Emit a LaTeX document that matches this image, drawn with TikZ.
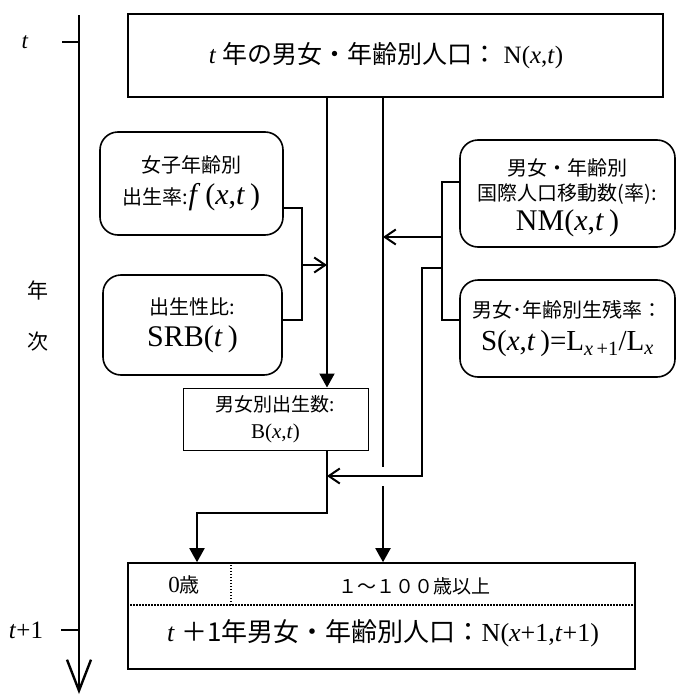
\documentclass[tikz,border=0pt]{standalone}
\usepackage{fontspec}
\usepackage{tikz}
\usetikzlibrary{arrows.meta}
\setmainfont{Liberation Serif}
\newfontfamily\jp{Noto Sans CJK JP}

\tikzset{
  lnk/.style={line width=2pt},
  fil/.style={-{Triangle[length=14pt,width=15pt]}},
  opn/.style={-{Straight Barb[length=11pt,width=15pt]}},
  rbox/.style={draw, line width=1.6pt, rounded corners=18pt, align=center, inner sep=0pt,
    font=\fontsize{20}{32}\selectfont},
  sqbox/.style={draw, line width=1.6pt, align=center, inner sep=0pt},
  sepln/.style={line width=1.5pt, dash pattern=on 1.5pt off 1.5pt},
}

\begin{document}
\begin{tikzpicture}[x=1pt,y=-1pt]
        \useasboundingbox (0,0) rectangle (677,696);

        % time axis
        \coordinate (axtop) at (79,15);
        \coordinate (axbot) at (79,694);
        \coordinate (t0) at (79,42);
        \coordinate (t1) at (79,630);
        \draw[line width=2.6pt, -{Straight Barb[length=31pt,width=24pt,line width=2.4pt]}] (axtop) -- (axbot);
        \draw[line width=1.4pt] (t0) -- ++(-17,0);
        \draw[line width=1.4pt] (t1) -- ++(-18,0);
        \node[font=\fontsize{23}{24}\selectfont] (tlab) at (25,42) {\textit{t}};
        \node[font=\fontsize{25}{26}\selectfont] (t1lab) at (26,630) {\textit{t}+1};
        \node[font=\fontsize{21}{22}\selectfont\jp] (nen) at (38,290) {年};
        \node[font=\fontsize{21}{22}\selectfont\jp] (ji) at (38,342) {次};

        % boxes
        \node[sqbox, minimum width=535pt, minimum height=83pt, font=\fontsize{25}{28}\selectfont] (pop) at (395.5,55.5)
          {\hspace*{-19pt}\textit{t} {\jp 年の男女・年齢別人口：} N(\textit{x},\textit{t})};
        \node[rbox, minimum width=183pt, minimum height=103pt] (fer) at (191.5,183.5)
          {{\jp 女子年齢別}\\{\jp 出生率:}{\fontsize{30}{30}\selectfont\textit{f}\,(\textit{x},\textit{t}\,)}};
        \node[rbox, minimum width=179pt, minimum height=100pt] (srb) at (192.5,325)
          {{\jp 出生性比:}\\{\fontsize{30}{30}\selectfont SRB(\textit{t}\,)}};
        \node[rbox, minimum width=215pt, minimum height=107pt, font=\fontsize{20}{25}\selectfont] (mig) at (567.5,193.5)
          {\rule{0pt}{26pt}{\jp 男女・年齢別}\\{\jp 国際人口移動数(率):}\\[5pt]{\fontsize{30}{30}\selectfont NM(\textit{x},\textit{t}\,)}};
        \node[rbox, minimum width=215pt, minimum height=97pt, font=\fontsize{20}{33}\selectfont] (surv) at (567.5,328.5)
          {{\jp 男女･年齢別生残率：}\\{\fontsize{29}{29}\selectfont S(\textit{x},\textit{t}\,)=L\textsubscript{\textit{x}\,+1}/L\textsubscript{\textit{x}}}};
        \node[sqbox, line width=1pt, minimum width=185pt, minimum height=62pt, font=\fontsize{19}{27}\selectfont] (birth) at (275.5,419)
          {{\jp 男女別出生数:}\\{\fontsize{21}{21}\selectfont B(\textit{x},\textit{t})}};
        \node[sqbox, minimum width=507pt, minimum height=106pt] (next) at (381.5,616) {};
        \node[font=\fontsize{20}{22}\selectfont] (age0) at (184,585) {{\fontsize{23}{22}\selectfont 0}{\jp 歳}};
        \node[font=\fontsize{19}{22}\selectfont\jp] (age1) at (414,586) {１～１００歳以上};
        \node[font=\fontsize{26}{28}\selectfont] (nextlbl) at (383,633)
          {\textit{t} {\jp ＋1年男女・年齢別人口：}N(\textit{x}+1,\textit{t}+1)};

        \coordinate (div) at (231,605);
        \draw[sepln] (next.west |- div) -- (next.east |- div);
        \draw[sepln] (div) -- (div |- next.north);

        % connectors
        \coordinate (ca) at (327,0);
        \coordinate (cb) at (383,0);
        \coordinate (gapA) at (383,467);
        \coordinate (gapB) at (383,486);
        \coordinate (jl) at (302,265);
        \coordinate (jr) at (442,237);
        \coordinate (jr2) at (442,268);
        \coordinate (kr) at (422,476);
        \coordinate (kb) at (197,513);

        \draw[lnk, fil] (ca |- pop.south) -- (ca |- birth.north);
        \draw[lnk] (cb |- pop.south) -- (gapA);
        \draw[lnk, fil] (gapB) -- (cb |- next.north);

        \draw[lnk] ([yshift=-24.5pt]fer.east) -| (jl) |- ([yshift=5pt]srb.east);
        \draw[lnk, opn] (jl) -- (jl -| ca);

        \draw[lnk] ([yshift=11.5pt]mig.west) -| (jr) |- ([yshift=8.5pt]surv.west);
        \draw[lnk, opn] (jr) -- (jr -| cb);
        \draw[lnk, opn] (jr2) -| (kr) -- (kr -| ca);

        \draw[lnk, fil] (ca |- birth.south) |- (kb) -- (kb |- next.north);

    \end{tikzpicture}
\end{document}
